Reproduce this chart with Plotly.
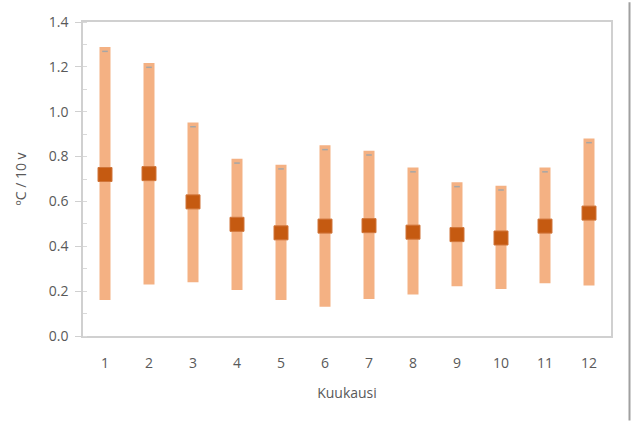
import plotly.graph_objects as go

# Monthly temperature trend ranges (°C per decade)
months = [1, 2, 3, 4, 5, 6, 7, 8, 9, 10, 11, 12]
low = [0.160, 0.230, 0.240, 0.205, 0.160, 0.130, 0.165, 0.185, 0.222, 0.210, 0.235, 0.225]
high = [1.288, 1.217, 0.952, 0.790, 0.764, 0.850, 0.826, 0.751, 0.685, 0.670, 0.751, 0.881]
mean = [0.720, 0.724, 0.598, 0.498, 0.460, 0.490, 0.492, 0.463, 0.452, 0.437, 0.490, 0.548]
upper_mark = [1.269, 1.198, 0.933, 0.771, 0.745, 0.831, 0.807, 0.732, 0.666, 0.651, 0.732, 0.862]

y_ticks = [0.0, 0.2, 0.4, 0.6, 0.8, 1.0, 1.2, 1.4]

W, H = 632, 421
ML, MR, MT, MB = 83, 21, 20, 85

fig = go.Figure()

# Range bars from low to high
fig.add_trace(go.Bar(
    x=months,
    y=[h - l for h, l in zip(high, low)],
    base=low,
    width=0.25,
    marker=dict(color="#F4B183", line=dict(width=0)),
    hoverinfo="skip",
))

# Small dash near the top of each range
fig.add_trace(go.Scatter(
    x=months, y=upper_mark, mode="markers",
    marker=dict(symbol="line-ew", size=4, line=dict(width=1.5, color="#a6a6a6")),
    hoverinfo="skip",
))

# Mean values
fig.add_trace(go.Scatter(
    x=months, y=mean, mode="markers",
    marker=dict(symbol="square", size=14, color="#C55A11",
                line=dict(width=1, color="#D0753A")),
))

tick_font = dict(family="Open Sans, Noto Sans, sans-serif", size=14, color="#595959")

fig.update_layout(
    width=W, height=H,
    margin=dict(l=ML, r=MR, t=MT, b=MB),
    paper_bgcolor="white",
    plot_bgcolor="white",
    showlegend=False,
    barmode="overlay",
    font=tick_font,
    xaxis=dict(
        range=[0.5, 12.5],
        tickmode="array", tickvals=months, ticktext=[str(m) for m in months],
        ticks="", showgrid=False, zeroline=False,
        showline=True, linecolor="#d0d0d0", linewidth=1.5, mirror=True,
        ticklabelstandoff=13,
        title=dict(text="Kuukausi", font=tick_font, standoff=18),
    ),
    yaxis=dict(
        range=[0, 1.4],
        tickmode="array", tickvals=y_ticks, ticktext=[f"{v:.1f}" for v in y_ticks],
        ticks="outside", ticklen=6, tickcolor="#d0d0d0", tickwidth=1,
        minor=dict(ticks="inside", dtick=0.1, ticklen=4, tickcolor="#d9d9d9", tickwidth=1),
        showgrid=False, zeroline=False,
        showline=True, linecolor="#d0d0d0", linewidth=1.5, mirror=True,
        ticklabelstandoff=4,
        title=dict(text="ºC / 10 v", font=tick_font, standoff=19),
    ),
)

# Frame edge on the right side of the page
plot_w = W - ML - MR
plot_h = H - MT - MB
x_edge = (629.5 - ML) / plot_w
fig.add_shape(
    type="line", xref="paper", yref="paper",
    x0=x_edge, x1=x_edge, y0=-MB / plot_h, y1=1 + MT / plot_h,
    line=dict(color="#a0a0a0", width=2),
)

fig.write_html("out.html")
